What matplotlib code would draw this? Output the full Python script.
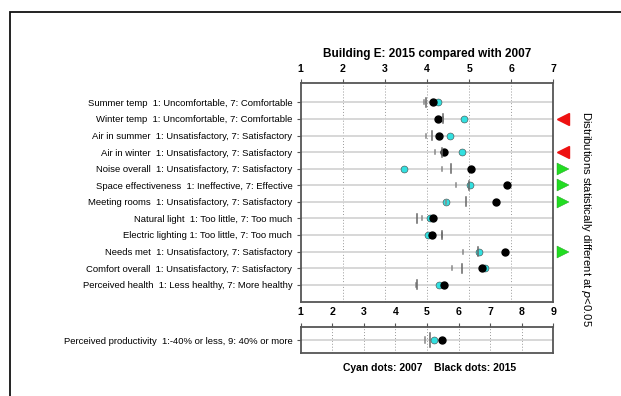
import matplotlib.pyplot as plt
from matplotlib.patches import Rectangle

plt.rcParams['font.family'] = ['Liberation Sans', 'DejaVu Sans']

# questions (top to bottom)
labels = [
    'Summer temp  1: Uncomfortable, 7: Comfortable',
    'Winter temp  1: Uncomfortable, 7: Comfortable',
    'Air in summer  1: Unsatisfactory, 7: Satisfactory',
    'Air in winter  1: Unsatisfactory, 7: Satisfactory',
    'Noise overall  1: Unsatisfactory, 7: Satisfactory',
    'Space effectiveness  1: Ineffective, 7: Effective',
    'Meeting rooms  1: Unsatisfactory, 7: Satisfactory',
    'Natural light  1: Too little, 7: Too much',
    'Electric lighting 1: Too little, 7: Too much',
    'Needs met  1: Unsatisfactory, 7: Satisfactory',
    'Comfort overall  1: Unsatisfactory, 7: Satisfactory',
    'Perceived health  1: Less healthy, 7: More healthy',
]
cyan_2007 = [4.25, 4.89, 4.55, 4.82, 3.45, 5.03, 4.44, 4.07, 4.03, 5.24, 5.37, 4.29]
black_2015 = [4.15, 4.26, 4.29, 4.40, 5.04, 5.89, 5.65, 4.15, 4.12, 5.85, 5.30, 4.40]
bench_short = [3.94, 4.37, 3.97, 4.20, 4.36, 4.70, 4.44, 3.89, 4.36, 4.85, 4.59, 3.73]
bench_long = [3.98, 4.38, 4.13, 4.36, 4.56, 5.00, 4.93, 3.76, 4.36, 5.20, 4.82, 3.76]
# significance: -1 worse (red), +1 better (green), 0 none
signif = [0, -1, 0, -1, 1, 1, 1, 0, 0, 1, 0, 0]

prod_label = 'Perceived productivity  1:-40% or less, 9: 40% or more'
prod_cyan = 5.22
prod_black = 5.49
prod_short = 4.95
prod_long = 5.10

fig = plt.figure(figsize=(6.21, 3.96), dpi=100)
fig.patches.append(Rectangle((10 / 621, -0.1), 1.2, 1 - 12 / 396 + 0.1,
                             transform=fig.transFigure, fill=False,
                             edgecolor='#111111', linewidth=1.3))

spine_col = '#555555'


def style_axes(ax, xmax):
    ax.set_xlim(1, xmax)
    ax.xaxis.tick_top()
    ax.set_xticks(range(1, xmax + 1))
    ax.tick_params(axis='x', length=3, width=0.8, color=spine_col, pad=4,
                   labelsize=7.6)
    for t in ax.get_xticklabels():
        t.set_fontweight('bold')
    ax.tick_params(axis='y', length=3, width=0.8, color=spine_col, pad=3,
                   labelsize=6.8)
    for s in ax.spines.values():
        s.set_color(spine_col)
        s.set_linewidth(1.3)
    for v in range(2, xmax):
        ax.axvline(v, color='#999999', linestyle=(0, (1, 2)), linewidth=0.7,
                   zorder=0)


def draw_row(ax, y, c, b, s, l):
    ax.axhline(y, color='#d4d4d4', linewidth=1.3, zorder=1)
    ax.plot(c, y, 'o', color='#33e0e0', markeredgecolor='#444444',
            markeredgewidth=0.4, markersize=5, zorder=3)
    ax.plot(b, y, 'o', color='black', markersize=5, zorder=4)
    ax.plot([s, s], [y - 0.12, y + 0.12], color='#888888', linewidth=1.1,
            zorder=5)
    ax.plot([l, l], [y - 0.27, y + 0.27], color='#666666', linewidth=1.1,
            zorder=5)


ax = fig.add_axes([300.7 / 621, 93.7 / 396, 252.6 / 621, 219 / 396])
style_axes(ax, 7)
rows = list(range(1, len(labels) + 1))
for y, c, b, s, l in zip(rows, cyan_2007, black_2015, bench_short, bench_long):
    draw_row(ax, y, c, b, s, l)
ax.set_ylim(13.06, -0.15)
ax.set_yticks(rows)
ax.set_yticklabels(labels)
ax.set_title('Building E: 2015 compared with 2007', fontsize=8.45,
             fontweight='bold', pad=19)

for y, sg in zip(rows, signif):
    if sg < 0:
        ax.plot(7.22, y, marker='<', color='#ee1111', markersize=8,
                clip_on=False, zorder=6)
    elif sg > 0:
        ax.plot(7.22, y, marker='>', color='#22dd22', markersize=8,
                markeredgecolor='#229922', markeredgewidth=0.3,
                clip_on=False, zorder=6)

fig.text(586 / 621, 1 - 219 / 396,
         'Distributions statistically different at $\\it{p}$<0.05',
         rotation=-90, ha='center', va='center', fontsize=8.1)

ax2 = fig.add_axes([300.7 / 621, 42.7 / 396, 252.6 / 621, 26.6 / 396])
style_axes(ax2, 9)
draw_row(ax2, 1, prod_cyan, prod_black, prod_short, prod_long)
ax2.set_ylim(1.5, 0.5)
ax2.set_yticks([1])
ax2.set_yticklabels([prod_label])

fig.text(429.5 / 621, 1 - 368.3 / 396,
         'Cyan dots: 2007    Black dots: 2015', ha='center', va='center',
         fontsize=7.5, fontweight='bold')

fig.savefig('out.png', dpi=100)
